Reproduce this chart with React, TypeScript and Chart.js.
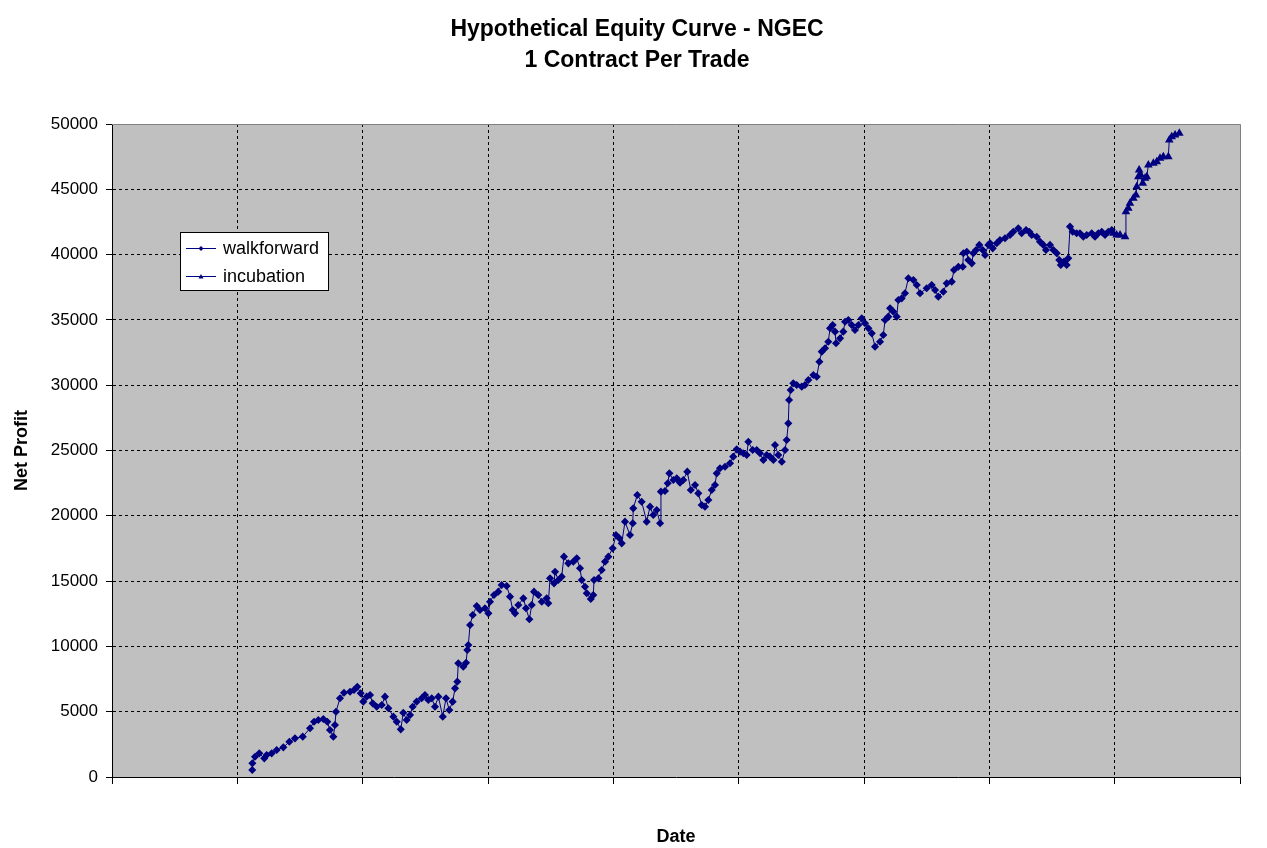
import { useEffect, useRef } from 'react';
import { Chart, registerables } from 'chart.js';

Chart.register(...registerables);

const TITLE_LINES = ['Hypothetical Equity Curve - NGEC', '1 Contract Per Trade'];
const X_TITLE = 'Date';
const Y_TITLE = 'Net Profit';
const SERIES_NAMES = ['walkforward', 'incubation'];
const Y_MIN = 0;
const Y_MAX = 50000;
const Y_STEP = 5000;
const X_MIN = 0;
const X_MAX = 9;
const X_STEP = 1;

const wfX = [
  1.119, 1.12, 1.141, 1.175, 1.215, 1.234, 1.274, 1.314, 1.367, 1.415,
  1.46, 1.522, 1.58, 1.612, 1.646, 1.686, 1.718, 1.739, 1.766, 1.779,
  1.787, 1.819, 1.851, 1.899, 1.931, 1.957, 1.984, 2.005, 2.032, 2.059,
  2.08, 2.112, 2.152, 2.178, 2.205, 2.245, 2.272, 2.304, 2.324, 2.351,
  2.378, 2.399, 2.431, 2.471, 2.497, 2.524, 2.551, 2.577, 2.604, 2.639,
  2.665, 2.691, 2.718, 2.737, 2.755, 2.763, 2.803, 2.825, 2.835, 2.843,
  2.857, 2.878, 2.91, 2.936, 2.976, 3.003, 3.016, 3.048, 3.082, 3.109,
  3.149, 3.176, 3.197, 3.216, 3.242, 3.282, 3.303, 3.33, 3.349, 3.367,
  3.401, 3.429, 3.468, 3.481, 3.495, 3.527, 3.535, 3.561, 3.588, 3.606,
  3.641, 3.681, 3.708, 3.734, 3.748, 3.774, 3.788, 3.82, 3.84, 3.846,
  3.881, 3.907, 3.934, 3.96, 3.995, 4.021, 4.048, 4.067, 4.093, 4.133,
  4.155, 4.159, 4.191, 4.226, 4.266, 4.293, 4.319, 4.346, 4.373, 4.38,
  4.412, 4.434, 4.447, 4.479, 4.506, 4.532, 4.558, 4.59, 4.618, 4.652,
  4.678, 4.705, 4.731, 4.758, 4.785, 4.811, 4.825, 4.851, 4.891, 4.931,
  4.957, 4.984, 5.011, 5.037, 5.064, 5.077, 5.112, 5.144, 5.17, 5.197,
  5.224, 5.25, 5.277, 5.29, 5.316, 5.344, 5.37, 5.383, 5.396, 5.402,
  5.415, 5.436, 5.463, 5.503, 5.529, 5.556, 5.596, 5.623, 5.644, 5.663,
  5.689, 5.715, 5.729, 5.75, 5.769, 5.777, 5.809, 5.835, 5.849, 5.875,
  5.902, 5.928, 5.955, 5.982, 6.008, 6.035, 6.062, 6.088, 6.128, 6.154,
  6.168, 6.194, 6.208, 6.234, 6.261, 6.274, 6.301, 6.327, 6.354, 6.394,
  6.421, 6.447, 6.5, 6.54, 6.567, 6.593, 6.633, 6.66, 6.7, 6.718,
  6.753, 6.788, 6.793, 6.82, 6.832, 6.86, 6.872, 6.894, 6.92, 6.947,
  6.966, 6.992, 7.006, 7.027, 7.059, 7.085, 7.125, 7.165, 7.191, 7.231,
  7.258, 7.293, 7.319, 7.338, 7.378, 7.404, 7.431, 7.452, 7.484, 7.511,
  7.538, 7.558, 7.57, 7.596, 7.617, 7.63, 7.644, 7.665, 7.697, 7.723,
  7.75, 7.777, 7.817, 7.843, 7.87, 7.897, 7.923, 7.949, 7.977,
];

const wfY = [
  540, 1050, 1550, 1810, 1430, 1680, 1810, 2070, 2270, 2700,
  2960, 3090, 3730, 4230, 4360, 4440, 4230, 3600, 3090, 3980,
  5000, 6030, 6450, 6530, 6660, 6910, 6410, 5770, 6150, 6280,
  5640, 5380, 5510, 6150, 5260, 4620, 4230, 3650, 4920, 4360,
  4750, 5380, 5770, 6030, 6280, 5900, 6030, 5380, 6150, 4620,
  6030, 5130, 5770, 6790, 7300, 8710, 8450, 8750, 9720, 10110,
  11640, 12400, 13090, 12790, 12920, 12530, 13420, 13940, 14190, 14700,
  14620, 13810, 12790, 12530, 13170, 13680, 12920, 12080, 13170, 14190,
  13940, 13420, 13680, 13300, 15210, 14830, 15720, 15080, 15340, 16870,
  16360, 16490, 16750, 15980, 15080, 14570, 14070, 13630, 13940, 15080,
  15210, 15850, 16490, 16870, 17510, 18530, 18280, 17890, 19550, 18530,
  19430, 20570, 21590, 21080, 19550, 20700, 20060, 20440, 19430, 21850,
  21900, 22490, 23250, 22740, 22870, 22540, 22740, 23380, 21980, 22360,
  21720, 20830, 20700, 21210, 21980, 22360, 23250, 23640, 23760, 24020,
  24530, 25090, 24910, 24790, 24660, 25670, 25040, 25040, 24790, 24270,
  24660, 24530, 24270, 25420, 24660, 24140, 25040, 25800, 27080, 28870,
  29630, 30150, 30020, 29890, 30020, 30400, 30780, 30650, 31800, 32570,
  32830, 33330, 34360, 34610, 34100, 33210, 33590, 34100, 34860, 34990,
  34610, 34230, 34610, 35120, 34740, 34360, 33970, 32950, 33330, 33840,
  34990, 35250, 35890, 35630, 35250, 36520, 36650, 37040, 38190, 38060,
  37670, 37040, 37420, 37670, 37290, 36780, 37160, 37800, 37930, 38820,
  39070, 39070, 40100, 40220, 39590, 39330, 40100, 40350, 40740, 40350,
  39970, 40740, 40870, 40480, 40870, 41120, 41250, 41500, 41750, 42010,
  41630, 41880, 41750, 41500, 41370, 40990, 40740, 40350, 40740, 40350,
  40100, 39590, 39200, 39460, 39200, 39720, 42140, 41750, 41630, 41630,
  41370, 41500, 41630, 41370, 41630, 41750, 41500, 41750, 41880,
];

const incX = [
  7.99, 8.016, 8.043, 8.083, 8.09, 8.109, 8.122, 8.149, 8.17, 8.176,
  8.189, 8.195, 8.208, 8.224, 8.242, 8.256, 8.269, 8.309, 8.336, 8.362,
  8.388, 8.428, 8.436, 8.455, 8.482, 8.516,
];

const incY = [
  41630, 41500, 41500, 41370, 43280, 43540, 43930, 44310, 44560, 45200,
  45970, 46480, 46100, 45460, 45840, 45970, 46860, 46990, 47110, 47370,
  47500, 47500, 48770, 49030, 49160, 49290,
];

const NAVY = '#000080';
const FONT = 'Arial, "Liberation Sans", sans-serif';

function toPoints(xs: number[], ys: number[]) {
  const n = Math.min(xs.length, ys.length);
  const out: { x: number; y: number }[] = [];
  for (let i = 0; i < n; i++) out.push({ x: xs[i], y: ys[i] });
  return out;
}

function drawMarker(ctx: CanvasRenderingContext2D, style: string, x: number, y: number, r: number) {
  ctx.beginPath();
  if (style === 'triangle') {
    ctx.moveTo(x, y - r);
    ctx.lineTo(x + r, y + r * 0.8);
    ctx.lineTo(x - r, y + r * 0.8);
  } else {
    ctx.moveTo(x, y - r);
    ctx.lineTo(x + r, y);
    ctx.lineTo(x, y + r);
    ctx.lineTo(x - r, y);
  }
  ctx.closePath();
  ctx.fill();
}

const decorPlugin = {
  id: 'decor',
  beforeDraw(chart: any) {
    const { ctx, chartArea: a } = chart;
    ctx.save();
    ctx.fillStyle = '#ffffff';
    ctx.fillRect(0, 0, chart.width, chart.height);
    ctx.fillStyle = '#c0c0c0';
    ctx.fillRect(a.left, a.top, a.right - a.left, a.bottom - a.top);
    ctx.restore();
  },
  afterDraw(chart: any) {
    const { ctx, chartArea: a } = chart;
    ctx.save();
    ctx.strokeStyle = '#808080';
    ctx.lineWidth = 1;
    ctx.setLineDash([]);
    ctx.beginPath();
    ctx.moveTo(a.left, Math.round(a.top) + 0.5);
    ctx.lineTo(Math.round(a.right) + 0.5, Math.round(a.top) + 0.5);
    ctx.lineTo(Math.round(a.right) + 0.5, a.bottom);
    ctx.stroke();

    ctx.fillStyle = '#000';
    ctx.textAlign = 'center';
    ctx.textBaseline = 'middle';
    ctx.font = `bold 23px ${FONT}`;
    ctx.fillText(TITLE_LINES[0], 637, 30);
    ctx.fillText(TITLE_LINES[1], 637, 61);

    ctx.font = `bold 18px ${FONT}`;
    ctx.fillText(X_TITLE, (a.left + a.right) / 2, 837);
    ctx.save();
    ctx.translate(22, (a.top + a.bottom) / 2);
    ctx.rotate(-Math.PI / 2);
    ctx.fillText(Y_TITLE, 0, 0);
    ctx.restore();

    // legend
    const lx = 180.5, ly = 232.5, lw = 148, lh = 58;
    ctx.fillStyle = '#fff';
    ctx.fillRect(lx, ly, lw, lh);
    ctx.strokeStyle = '#000';
    ctx.strokeRect(lx, ly, lw, lh);
    const styles = ['rectRot', 'triangle'];
    SERIES_NAMES.forEach((name, i) => {
      const y = 248 + i * 28;
      ctx.strokeStyle = NAVY;
      ctx.beginPath();
      ctx.moveTo(186, y + 0.5);
      ctx.lineTo(216, y + 0.5);
      ctx.stroke();
      ctx.fillStyle = NAVY;
      drawMarker(ctx, styles[i], 201, y + 0.5, 2.5);
      ctx.fillStyle = '#000';
      ctx.textAlign = 'left';
      ctx.font = `18px ${FONT}`;
      ctx.fillText(name, 223, y + 1);
    });
    ctx.restore();
  },
};

export default function App() {
  const canvasRef = useRef<HTMLCanvasElement | null>(null);

  useEffect(() => {
    if (!canvasRef.current) return;
    const gridColor = (edgeValues: number[]) => (c: any) =>
      c.tick && edgeValues.includes(c.tick.value) ? 'rgba(0,0,0,0)' : '#000';

    const chart = new Chart(canvasRef.current, {
      type: 'line',
      data: {
        datasets: [
          {
            label: SERIES_NAMES[0],
            data: toPoints(wfX, wfY),
            borderColor: NAVY,
            backgroundColor: NAVY,
            borderWidth: 1,
            pointStyle: 'rectRot',
            pointRadius: 3,
            pointBorderWidth: 1.5,
            pointBackgroundColor: NAVY,
            pointBorderColor: NAVY,
            tension: 0,
            fill: false,
          },
          {
            label: SERIES_NAMES[1],
            data: toPoints(incX, incY),
            borderColor: NAVY,
            backgroundColor: NAVY,
            borderWidth: 1,
            pointStyle: 'triangle',
            pointRadius: 3.5,
            pointBorderWidth: 1.5,
            pointBackgroundColor: NAVY,
            pointBorderColor: NAVY,
            tension: 0,
            fill: false,
          },
        ],
      },
      options: {
        animation: false,
        responsive: false,
        devicePixelRatio: 1,
        layout: { padding: { top: 124, right: 27, left: 0, bottom: 0 } },
        plugins: {
          legend: { display: false },
          title: { display: false },
          tooltip: { enabled: false },
        },
        scales: {
          x: {
            type: 'linear',
            min: X_MIN,
            max: X_MAX,
            ticks: { stepSize: X_STEP, callback: () => '', padding: 0 },
            grid: {
              color: gridColor([X_MIN, X_MAX]),
              lineWidth: 1,
              tickLength: 7,
              tickColor: '#000',
              drawTicks: true,
            },
            border: { display: true, color: '#000', width: 1, dash: [3, 3] },
            afterFit: (s: any) => {
              s.height = 71;
            },
          },
          y: {
            type: 'linear',
            min: Y_MIN,
            max: Y_MAX,
            ticks: {
              stepSize: Y_STEP,
              callback: (v: any) => String(v),
              color: '#000',
              font: { family: FONT, size: 17 },
              padding: 8,
            },
            grid: {
              color: gridColor([Y_MIN, Y_MAX]),
              lineWidth: 1,
              tickLength: 6,
              tickColor: '#000',
              drawTicks: true,
            },
            border: { display: true, color: '#000', width: 1, dash: [3, 3] },
            afterFit: (s: any) => {
              s.width = 112;
            },
          },
        },
      } as any,
      plugins: [decorPlugin],
    });
    return () => chart.destroy();
  }, []);

  return (
    <div style={{ position: 'fixed', left: 0, top: 0, width: 1267, height: 848, background: '#fff' }}>
      <canvas ref={canvasRef} width={1267} height={848} style={{ width: 1267, height: 848, display: 'block' }} />
    </div>
  );
}
